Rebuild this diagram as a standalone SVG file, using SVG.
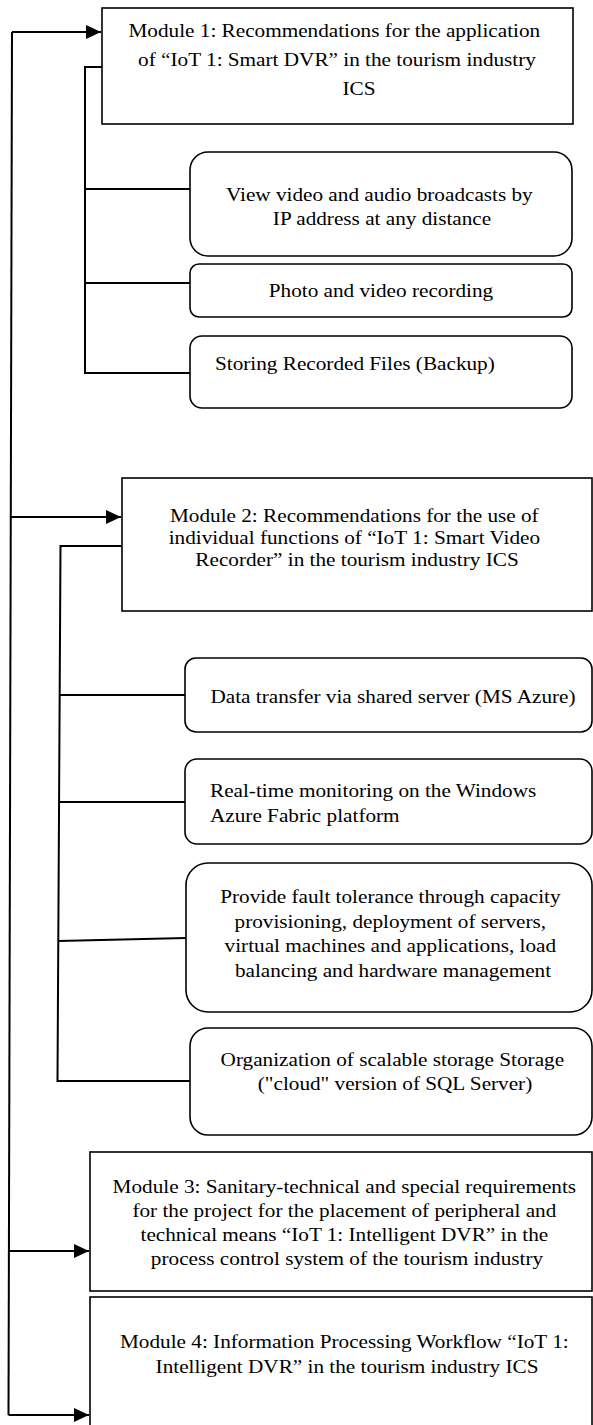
<svg xmlns="http://www.w3.org/2000/svg" width="593" height="1425" viewBox="0 0 593 1425">
  <style>
    .box { fill: #ffffff; stroke: #000000; stroke-width: 1.6; }
    .link { fill: none; stroke: #000000; stroke-width: 2; }
    text { font-family: 'Liberation Serif', 'DejaVu Serif', serif; font-size: 19.3px; fill: #000000; }
    .mid { text-anchor: middle; }
  </style>
  <defs>
    <marker id="arrow" markerUnits="userSpaceOnUse" markerWidth="15" markerHeight="14" refX="15" refY="7" orient="auto">
      <path d="M0,0 L15,7 L0,14 z" fill="#000000"/>
    </marker>
  </defs>

  <rect width="593" height="1425" fill="#ffffff"/>

  <!-- connectors -->
  <g id="connectors">
    <!-- main spine feeding the four modules -->
    <path class="link" d="M12,32 L8.5,1415"/>
    <path class="link" d="M12,32 H101" marker-end="url(#arrow)"/>
    <path class="link" d="M10.7,517 H121" marker-end="url(#arrow)"/>
    <path class="link" d="M9.4,1251 H89" marker-end="url(#arrow)"/>
    <path class="link" d="M8.5,1415 H89" marker-end="url(#arrow)"/>
    <!-- module 1 functions -->
    <path class="link" d="M102,67 H85 V373 H190"/>
    <path class="link" d="M85,189 H190"/>
    <path class="link" d="M85,283 H190"/>
    <!-- module 2 functions -->
    <path class="link" d="M122,546 H60.5 L57.5,1081 H190"/>
    <path class="link" d="M59.6,695 H185"/>
    <path class="link" d="M59.1,802 H185"/>
    <path class="link" d="M58.5,941 L186,938"/>
  </g>

  <g id="module1">
    <rect class="box" x="102" y="8" width="471" height="116"/>
    <text class="mid" font-family="Liberation Serif" transform="matrix(1.1 0 0 1 337 0)">
      <tspan x="0" y="37">Module 1: Recommendations for the application</tspan>
      <tspan x="0" y="66">of “IoT 1: Smart DVR” in the tourism industry</tspan>
    </text>
    <text class="mid" font-family="Liberation Serif" transform="matrix(1.1 0 0 1 359 0)"><tspan x="0" y="95">ICS</tspan></text>
  </g>

  <g id="m1-view">
    <rect class="box" x="190" y="152" width="382" height="104" rx="18"/>
    <text class="mid" font-family="Liberation Serif" transform="matrix(1.1 0 0 1 382 0)">
      <tspan x="0" y="201">View video and audio broadcasts by</tspan>
      <tspan x="0" y="225">IP address at any distance</tspan>
    </text>
  </g>

  <g id="m1-record">
    <rect class="box" x="190" y="264" width="382" height="53" rx="9"/>
    <text class="mid" font-family="Liberation Serif" transform="matrix(1.1 0 0 1 381 0)"><tspan x="0" y="297">Photo and video recording</tspan></text>
  </g>

  <g id="m1-backup">
    <rect class="box" x="190" y="336" width="382" height="72" rx="12"/>
    <text font-family="Liberation Serif" transform="matrix(1.1 0 0 1 215 0)"><tspan x="0" y="370">Storing Recorded Files (Backup)</tspan></text>
  </g>

  <g id="module2">
    <rect class="box" x="122" y="478" width="470" height="133"/>
    <text class="mid" font-family="Liberation Serif" transform="matrix(1.1 0 0 1 357 0)">
      <tspan x="0" y="522">Module 2: Recommendations for the use of</tspan>
      <tspan x="0" y="544">individual functions of “IoT 1: Smart Video</tspan>
      <tspan x="0" y="566">Recorder” in the tourism industry ICS</tspan>
    </text>
  </g>

  <g id="m2-transfer">
    <rect class="box" x="185" y="658" width="407" height="74" rx="11"/>
    <text class="mid" font-family="Liberation Serif" transform="matrix(1.1 0 0 1 393 0)"><tspan x="0" y="703">Data transfer via shared server (MS Azure)</tspan></text>
  </g>

  <g id="m2-monitoring">
    <rect class="box" x="185" y="759" width="407" height="85" rx="12"/>
    <text font-family="Liberation Serif" transform="matrix(1.1 0 0 1 210 0)">
      <tspan x="0" y="797">Real-time monitoring on the Windows</tspan>
      <tspan x="0" y="822">Azure Fabric platform</tspan>
    </text>
  </g>

  <g id="m2-fault">
    <rect class="box" x="186" y="863" width="406" height="149" rx="22"/>
    <text class="mid" font-family="Liberation Serif" transform="matrix(1.1 0 0 1 393 0)">
      <tspan x="0" y="903">Provide fault tolerance through capacity</tspan>
      <tspan x="0" y="928">provisioning, deployment of servers,</tspan>
      <tspan x="0" y="952">virtual machines and applications, load</tspan>
      <tspan x="0" y="977">balancing and hardware management</tspan>
    </text>
  </g>

  <g id="m2-storage">
    <rect class="box" x="190" y="1028" width="402" height="107" rx="18"/>
    <text class="mid" font-family="Liberation Serif" transform="matrix(1.1 0 0 1 395 0)">
      <tspan x="0" y="1066">Organization of scalable storage Storage</tspan>
      <tspan x="0" y="1090">("cloud" version of SQL Server)</tspan>
    </text>
  </g>

  <g id="module3">
    <rect class="box" x="90" y="1152" width="502" height="139"/>
    <text class="mid" font-family="Liberation Serif" transform="matrix(1.1 0 0 1 347 0)">
      <tspan x="0" y="1193">Module 3: Sanitary-technical and special requirements</tspan>
      <tspan x="0" y="1217">for the project for the placement of peripheral and</tspan>
      <tspan x="0" y="1241">technical means “IoT 1: Intelligent DVR” in the</tspan>
      <tspan x="0" y="1265">process control system of the tourism industry</tspan>
    </text>
  </g>

  <g id="module4">
    <rect class="box" x="90" y="1297" width="502" height="140"/>
    <text class="mid" font-family="Liberation Serif" transform="matrix(1.1 0 0 1 347 0)">
      <tspan x="0" y="1348">Module 4: Information Processing Workflow “IoT 1:</tspan>
      <tspan x="0" y="1373">Intelligent DVR” in the tourism industry ICS</tspan>
    </text>
  </g>
</svg>
